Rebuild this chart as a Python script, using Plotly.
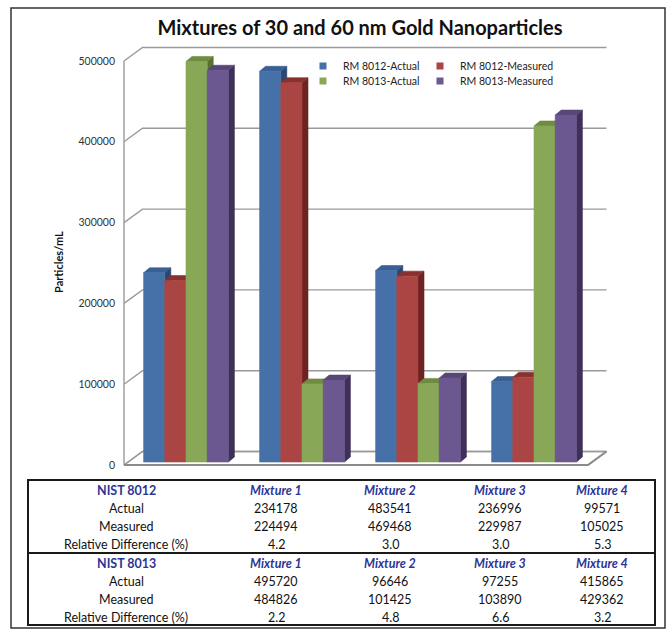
import plotly.graph_objects as go

# ---------------- data ----------------
mixtures = ["Mixture 1", "Mixture 2", "Mixture 3", "Mixture 4"]
series_names = ["RM 8012-Actual", "RM 8012-Measured", "RM 8013-Actual", "RM 8013-Measured"]
rm8012_actual = [234178, 483541, 236996, 99571]
rm8012_measured = [224494, 469468, 229987, 105025]
rm8013_actual = [495720, 96646, 97255, 415865]
rm8013_measured = [484826, 101425, 103890, 429362]
rm8012_reldiff = ["4.2", "3.0", "3.0", "5.3"]
rm8013_reldiff = ["2.2", "4.8", "6.6", "3.2"]
y_ticks = [0, 100000, 200000, 300000, 400000, 500000]
row_labels = ["Actual", "Measured", "Relative Difference (%)"]
block_titles = ["NIST 8012", "NIST 8013"]
series_values = [rm8012_actual, rm8012_measured, rm8013_actual, rm8013_measured]

# ---------------- styles ----------------
front_colors = ["#4670a8", "#aa4543", "#88a757", "#6b5890"]
top_colors = ["#3a5f93", "#8a302e", "#6e8c42", "#574678"]
side_colors = ["#2b4770", "#6c2321", "#56702f", "#3e3058"]
FONT = "Lato"
W, H = 671, 630
PL, PR, PT, PB = 116, 640, 40, 477          # plot area (px)
X_PX = 116.0                                 # px per category
Y_PX = 80.8 / 100000.0                       # px per value unit
FRONT_LEFT_PX, ZERO_PX = 124, 465            # front plane origin (px)
WALL_DX, WALL_DY = 18.5, 13.5                # depth of chart box (px)
BAR_OFF_DX, BAR_OFF_DY = 4.0, 3.0            # bar front plane offset (px)
BAR_DX, BAR_DY = 6.0, 5.0                    # bar depth (px)
BAR_W = 21.2                                 # bar width (px)

def dx(px):
    return px / X_PX

def dy(px):
    return px / Y_PX

x0 = -0.5 - dx(FRONT_LEFT_PX - PL)
x1 = x0 + dx(PR - PL)
y0 = -dy(PB - ZERO_PX)
y1 = y0 + dy(PB - PT)

n_cat = len(mixtures)
xf, xr = -0.5, n_cat - 0.5
wdx, wdy = dx(WALL_DX), dy(WALL_DY)

fig = go.Figure()

# floor
fig.add_trace(go.Scatter(
    x=[xf, xf + wdx, xr + wdx, xr, xf], y=[0, wdy, wdy, 0, 0],
    mode="lines", fill="toself", fillcolor="white",
    line=dict(color="#9a9a9a", width=1.4), hoverinfo="skip", showlegend=False))

# gridlines on back wall + side diagonals
gx, gy = [], []
for v in y_ticks:
    gx += [xf, xf + wdx, xr + wdx, None]
    gy += [v, v + wdy, v + wdy, None]
gx += [xf, xf]
gy += [0, y_ticks[-1]]
fig.add_trace(go.Scatter(x=gx, y=gy, mode="lines",
                         line=dict(color="#9a9a9a", width=1.4),
                         hoverinfo="skip", showlegend=False))
# floor front edge (slab)
fig.add_trace(go.Scatter(x=[xf, xr, xr + wdx], y=[0, 0, wdy], mode="lines",
                         line=dict(color="#8a8a8a", width=2),
                         hoverinfo="skip", showlegend=False))

# bars (3D faces)
bw = dx(BAR_W)
bdx, bdy = dx(BAR_DX), dy(BAR_DY)
odx, ody = dx(BAR_OFF_DX), dy(BAR_OFF_DY)
nser = len(series_values)

def bar_geom(s, g):
    L = g + odx - nser / 2 * bw + s * bw
    R = L + bw
    yb = ody
    yt = ody + series_values[s][g]
    return L, R, yb, yt

for face in ["side", "top", "front"]:
    for s in range(nser):
        px_, py_ = [], []
        for g in range(n_cat):
            L, R, yb, yt = bar_geom(s, g)
            if face == "side":
                px_ += [R, R + bdx, R + bdx, R, R, None]
                py_ += [yb, yb + bdy, yt + bdy, yt, yb, None]
            elif face == "top":
                px_ += [L, R, R + bdx, L + bdx, L, None]
                py_ += [yt, yt, yt + bdy, yt + bdy, yt, None]
            else:
                px_ += [L, R, R, L, L, None]
                py_ += [yb, yb, yt, yt, yb, None]
        col = {"side": side_colors, "top": top_colors, "front": front_colors}[face][s]
        fig.add_trace(go.Scatter(x=px_, y=py_, mode="lines", fill="toself",
                                 fillcolor=col, line=dict(color=col, width=0.6),
                                 hoverinfo="skip", showlegend=False))

# legend entries (4 separate legends for a 2x2 layout)
legend_ids = ["legend", "legend2", "legend3", "legend4"]
legend_pos = [(303, 66), (420, 66), (303, 81), (420, 81)]
for k in range(nser):
    fig.add_trace(go.Scatter(x=[None], y=[None], mode="markers", name=series_names[k],
                             marker=dict(symbol="square", size=7, color=front_colors[k]),
                             legend=legend_ids[k], showlegend=True))

legend_layout = {}
for k, lid in enumerate(legend_ids):
    lx, ly = legend_pos[k]
    legend_layout[lid] = dict(x=lx / W, y=1 - ly / H, xanchor="left", yanchor="middle",
                              bgcolor="rgba(0,0,0,0)", borderwidth=0,
                              font=dict(family=FONT, size=10.5, color="#222"),
                              itemwidth=30)

# table (text annotations + border shapes)
blue = "#2d3596"
TBL_L, TBL_R, TBL_T, TBL_B = 28, 655, 480, 625
col_centers = [126, 276, 390, 500, 602]
row_centers = [490, 508, 526, 544, 563, 581, 599, 617]
blocks = [
    (block_titles[0], [rm8012_actual, rm8012_measured, rm8012_reldiff]),
    (block_titles[1], [rm8013_actual, rm8013_measured, rm8013_reldiff]),
]
annotations = []

def cell(text, cx, cy, color="#111"):
    annotations.append(dict(text=text, x=cx / W, y=1 - cy / H, xref="paper", yref="paper",
                            xanchor="center", yanchor="middle", showarrow=False,
                            font=dict(family=FONT, size=12.5, color=color)))

r = 0
for title, rows in blocks:
    cell("<b>%s</b>" % title, col_centers[0], row_centers[r], blue)
    for g in range(n_cat):
        cell("<b><i>%s</i></b>" % mixtures[g], col_centers[g + 1], row_centers[r], blue)
    r += 1
    for lbl, vals in zip(row_labels, rows):
        cell(lbl, col_centers[0], row_centers[r])
        for g in range(n_cat):
            cell(str(vals[g]), col_centers[g + 1], row_centers[r])
        r += 1

annotations.append(dict(text="<b>Particles/mL</b>", x=58 / W, y=1 - 262 / H,
                        xref="paper", yref="paper", textangle=-90, showarrow=False,
                        xanchor="center", yanchor="middle",
                        font=dict(family=FONT, size=11, color="#111")))

shapes = [
    dict(type="rect", xref="paper", yref="paper", x0=11 / W, x1=665 / W,
         y0=1 - 628 / H, y1=1 - 8 / H, line=dict(color="#333", width=1.5)),
    dict(type="rect", xref="paper", yref="paper", x0=TBL_L / W, x1=TBL_R / W,
         y0=1 - TBL_B / H, y1=1 - TBL_T / H, line=dict(color="#1a1a1a", width=2)),
    dict(type="line", xref="paper", yref="paper", x0=TBL_L / W, x1=TBL_R / W,
         y0=1 - 553 / H, y1=1 - 553 / H, line=dict(color="#1a1a1a", width=2)),
]

fig.update_layout(
    width=W, height=H, margin=dict(l=0, r=0, t=0, b=0),
    paper_bgcolor="white", plot_bgcolor="rgba(0,0,0,0)",
    font=dict(family=FONT),
    title=dict(text="<b>Mixtures of 30 and 60 nm Gold Nanoparticles</b>",
               x=360 / W, xanchor="center", y=1 - 28 / H, yanchor="middle",
               font=dict(family=FONT, size=20, color="#111")),
    xaxis=dict(range=[x0, x1], domain=[PL / W, PR / W], visible=False, fixedrange=True),
    yaxis=dict(range=[y0, y1], domain=[1 - PB / H, 1 - PT / H], tickvals=y_ticks,
               tickformat="d", showgrid=False, zeroline=False, showline=False,
               ticks="", tickfont=dict(family=FONT, size=10.5, color="#333"),
               fixedrange=True),
    annotations=annotations,
    shapes=shapes,
    **legend_layout,
)

fig.write_html("out.html")
